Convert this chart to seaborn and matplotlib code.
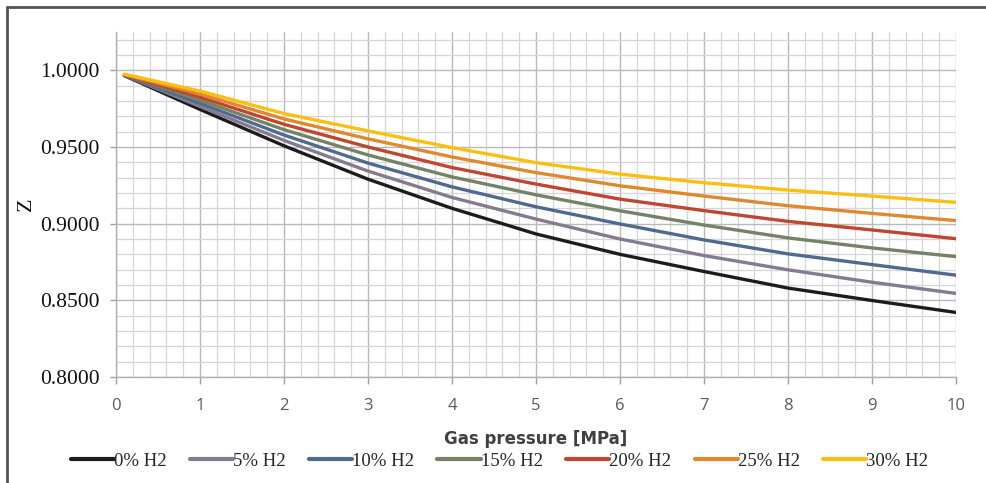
import matplotlib
matplotlib.use("Agg")
import matplotlib.pyplot as plt
from matplotlib.lines import Line2D
from matplotlib.ticker import MultipleLocator, FormatStrFormatter
import numpy as np
import pandas as pd
import seaborn as sns

# Gas pressure [MPa]
pressure = [0.1, 1, 2, 3, 4, 5, 6, 7, 8, 9, 10]

# Compressibility factor Z for natural gas blended with hydrogen
z_h2_0 = [0.9965, 0.9745, 0.9508, 0.9290, 0.9100, 0.8933, 0.8800, 0.8688, 0.8580, 0.8499, 0.8421]
z_h2_5 = [0.9967, 0.9765, 0.9543, 0.9343, 0.9171, 0.9030, 0.8900, 0.8792, 0.8699, 0.8618, 0.8545]
z_h2_10 = [0.9968, 0.9785, 0.9578, 0.9395, 0.9240, 0.9110, 0.8998, 0.8894, 0.8803, 0.8733, 0.8664]
z_h2_15 = [0.9970, 0.9805, 0.9613, 0.9448, 0.9305, 0.9188, 0.9084, 0.8991, 0.8907, 0.8842, 0.8785]
z_h2_20 = [0.9971, 0.9825, 0.9648, 0.9500, 0.9366, 0.9258, 0.9160, 0.9085, 0.9015, 0.8959, 0.8902]
z_h2_25 = [0.9973, 0.9845, 0.9683, 0.9553, 0.9435, 0.9333, 0.9247, 0.9180, 0.9117, 0.9067, 0.9020]
z_h2_30 = [0.9975, 0.9865, 0.9718, 0.9605, 0.9496, 0.9398, 0.9323, 0.9267, 0.9219, 0.9180, 0.9139]

series_names = ["0% H2", "5% H2", "10% H2", "15% H2", "20% H2", "25% H2", "30% H2"]
series_values = [z_h2_0, z_h2_5, z_h2_10, z_h2_15, z_h2_20, z_h2_25, z_h2_30]
series_colors = ["#1c1c1c", "#867a8e", "#50698f", "#748265", "#bf4630", "#e0882f", "#fdbf0f"]

df = pd.concat(
    [pd.DataFrame({"pressure": pressure, "Z": vals, "mix": name})
     for name, vals in zip(series_names, series_values)],
    ignore_index=True,
)

sns.set_theme(style="white")
plt.rcParams["font.family"] = ["DejaVu Sans"]

fig = plt.figure(figsize=(9.87, 4.83), dpi=100)
ax = fig.add_axes([116 / 987, 1 - 377 / 483, (956 - 116) / 987, (377 - 32) / 483])

sns.lineplot(
    data=df, x="pressure", y="Z", hue="mix", hue_order=series_names,
    palette=series_colors, linewidth=2.4, ax=ax, legend=False, sort=False,
)

ax.set_xlim(0, 10)
ax.set_ylim(0.8, 1.025)
ax.xaxis.set_major_locator(MultipleLocator(1))
ax.xaxis.set_minor_locator(MultipleLocator(0.2))
ax.yaxis.set_major_locator(MultipleLocator(0.05))
ax.yaxis.set_minor_locator(MultipleLocator(0.01))
ax.yaxis.set_major_formatter(FormatStrFormatter("%.4f"))

ax.grid(which="major", color="#b9b9b9", linewidth=1.0)
ax.grid(which="minor", color="#d6d6d6", linewidth=0.9)
ax.set_axisbelow(True)

for side in ("top", "right"):
    ax.spines[side].set_visible(False)
for side in ("left", "bottom"):
    ax.spines[side].set_color("#b0b0b0")
    ax.spines[side].set_linewidth(1.0)

ax.tick_params(axis="y", which="major", direction="out", length=4, width=1,
               color="#a0a0a0", pad=8, left=True)
ax.tick_params(axis="x", which="major", direction="out", length=5, width=1,
               color="#a0a0a0", pad=10, bottom=True)
ax.tick_params(which="minor", length=0)

for lab in ax.get_yticklabels():
    lab.set_fontfamily("Liberation Serif")
    lab.set_fontsize(15.5)
    lab.set_color("#111111")
for lab in ax.get_xticklabels():
    lab.set_fontfamily("Open Sans")
    lab.set_fontsize(12)
    lab.set_color("#5a5a5a")

ax.set_xlabel("Gas pressure [MPa]", fontsize=12, fontweight="bold",
              color="#404040", labelpad=12)
ax.set_ylabel("Z", fontdict={"family": "Liberation Serif", "size": 16},
              color="#111111", labelpad=3)

handles = [Line2D([0], [0], color=c, linewidth=3) for c in series_colors]
fig.legend(handles, series_names, loc="center", bbox_to_anchor=(0.506, 1 - 461 / 483),
           ncol=7, frameon=False, handlelength=2.3, handletextpad=0.0,
           columnspacing=1.25, prop={"family": "Liberation Serif", "size": 13.5})

# chart frame (top and left edges)
fig.add_artist(Line2D([7 / 987, 1.0], [1 - 7 / 483, 1 - 7 / 483],
                      transform=fig.transFigure, color="#555555", linewidth=2))
fig.add_artist(Line2D([7 / 987, 7 / 987], [0.0, 1 - 7 / 483],
                      transform=fig.transFigure, color="#555555", linewidth=2))

fig.savefig("out.png", dpi=100, facecolor="white")
